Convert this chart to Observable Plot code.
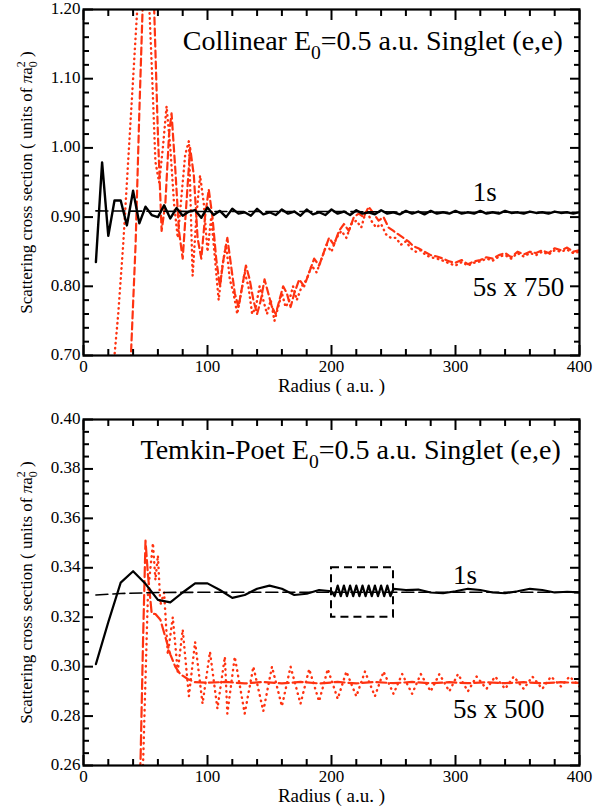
<!DOCTYPE html>
<html><head><meta charset="utf-8">
<script src="https://cdn.jsdelivr.net/npm/d3@7"></script>
<script src="https://cdn.jsdelivr.net/npm/@observablehq/plot@0.6"></script>
<style>
body{margin:0;background:#fff;}
#chart{width:605px;}
svg{display:block;}
</style></head><body><div id="chart"></div>
<script>
// ---------- DATA ----------
const topTitle = "Collinear E_0=0.5 a.u. Singlet (e,e)";
const botTitle = "Temkin-Poet E_0=0.5 a.u. Singlet (e,e)";
const yLabel = "Scattering cross section ( units of πa_0^2 )";
const xLabel = "Radius ( a.u. )";
const topLabel1s = "1s", topLabel5s = "5s x 750";
const botLabel1s = "1s", botLabel5s = "5s x 500";

const xMajor = [0, 100, 200, 300, 400];
const xMinor = [20, 40, 60, 80, 120, 140, 160, 180, 220, 240, 260, 280, 320, 340, 360, 380];
const topYMajor = [0.70, 0.80, 0.90, 1.00, 1.10, 1.20];
const topYMinor = [0.72,0.74,0.76,0.78,0.82,0.84,0.86,0.88,0.92,0.94,0.96,0.98,1.02,1.04,1.06,1.08,1.12,1.14,1.16,1.18];
const botYMajor = [0.26, 0.28, 0.30, 0.32, 0.34, 0.36, 0.38, 0.40];
const botYMinor = [0.265,0.27,0.275,0.285,0.29,0.295,0.305,0.31,0.315,0.325,0.33,0.335,0.345,0.35,0.355,0.365,0.37,0.375,0.385,0.39,0.395];

// top 1s (solid black), radius 10..400 every 5
const top1sR = d3.range(10, 401, 5);
const top1s = [0.835,0.979,0.873,0.924,0.924,0.888,0.938,0.891,0.915,0.903,0.900,0.917,0.898,0.913,0.902,0.908,0.910,0.899,0.914,0.903,
 0.909,0.900,0.912,0.905,0.907,0.902,0.912,0.904,0.907,0.903,0.911,0.905,0.908,0.902,0.911,0.904,0.907,0.903,0.911,0.905,
 0.908,0.903,0.910,0.905,0.907,0.904,0.910,0.905,0.907,0.904,0.909,0.905,0.908,0.904,0.909,0.905,0.907,0.905,0.909,0.905,
 0.907,0.905,0.909,0.905,0.907,0.905,0.909,0.906,0.907,0.905,0.908,0.906,0.907,0.905,0.908,0.906,0.907,0.905,0.907];
const top1sRefR = [10, 100, 200, 300, 400];
const top1sRef = [0.909, 0.908, 0.908, 0.907, 0.907];
const top5sDash = [[38,0.69],[42,0.86],[45,1.05],[48,1.22],[51,1.32],[54,1.30],[57,1.20],[60,1.02],[63,0.88],[66,0.92],[69,1.02],[71,1.05],[74,0.97],[77,0.88],[80,0.84],[83,0.92],[86,1.00],[89,0.96],[92,0.87],[95,0.84],[98,0.90],[101,0.94],[104,0.90],[107,0.84],[110,0.80],[113,0.84],[116,0.87],[119,0.83],[122,0.79],[125,0.77],[128,0.80],[131,0.83],[134,0.81],[137,0.78],[140,0.76],[143,0.78],[146,0.81],[149,0.79],[152,0.77],[155,0.76],[158,0.78],[161,0.80],[164,0.79],[167,0.77],[170,0.79],[174,0.81],[178,0.80],[182,0.82],[186,0.84],[190,0.83],[194,0.85],[198,0.87],[202,0.86],[206,0.88],[210,0.89],[214,0.88],[218,0.90],[222,0.905],[226,0.90],[230,0.915],[234,0.905],[238,0.895],[242,0.90],[246,0.885],[250,0.88],[254,0.875],[258,0.87],[262,0.865],[266,0.858],[270,0.855],[275,0.85],[280,0.845],[285,0.843],[290,0.84],[295,0.836],[300,0.834],[305,0.838],[310,0.832],[315,0.836],[320,0.838],[325,0.842],[330,0.84],[335,0.845],[340,0.848],[345,0.842],[350,0.85],[355,0.846],[360,0.85],[365,0.848],[370,0.852],[375,0.848],[380,0.855],[385,0.852],[390,0.856],[395,0.85],[400,0.852]];
const top5sDot = [[22,0.66],[25,0.70],[28,0.76],[32,0.86],[36,0.98],[40,1.10],[44,1.22],[48,1.32],[52,1.25],[55,1.12],[58,0.98],[61,0.95],[64,1.00],[67,1.06],[70,1.00],[73,0.92],[76,0.87],[79,0.93],[82,0.99],[85,1.01],[88,0.815],[91,0.90],[94,0.96],[97,0.92],[100,0.85],[103,0.90],[106,0.84],[109,0.78],[112,0.83],[115,0.86],[118,0.81],[121,0.79],[124,0.76],[127,0.79],[130,0.82],[133,0.80],[136,0.76],[139,0.77],[142,0.80],[145,0.78],[148,0.76],[151,0.78],[154,0.75],[157,0.77],[160,0.79],[163,0.77],[166,0.78],[169,0.80],[172,0.78],[176,0.80],[180,0.81],[184,0.83],[188,0.82],[192,0.84],[196,0.86],[200,0.85],[204,0.87],[208,0.88],[212,0.87],[216,0.89],[220,0.895],[224,0.885],[228,0.91],[232,0.895],[236,0.885],[240,0.89],[244,0.875],[248,0.87],[252,0.87],[256,0.86],[260,0.865],[264,0.855],[268,0.85],[272,0.852],[276,0.845],[280,0.842],[285,0.84],[290,0.837],[295,0.833],[300,0.83],[305,0.835],[310,0.83],[315,0.834],[320,0.836],[325,0.84],[330,0.837],[335,0.843],[340,0.845],[345,0.84],[350,0.848],[355,0.843],[360,0.848],[365,0.845],[370,0.85],[375,0.846],[380,0.852],[385,0.85],[390,0.853],[395,0.848],[400,0.85]];

const bot1s = [[10,0.301],[20,0.318],[30,0.334],[40,0.3386],[50,0.3335],[60,0.327],[70,0.326],[80,0.330],[90,0.3337],[100,0.3337],[110,0.331],[120,0.3278],[130,0.329],[140,0.3315],[150,0.3328],[160,0.3315],[170,0.329],[180,0.3295],[190,0.331],[200,0.3305],
 [202.5,0.3285],[205,0.3328],[207.5,0.3285],[210,0.3328],[212.5,0.3285],[215,0.3328],[217.5,0.3285],[220,0.3328],[222.5,0.3285],[225,0.3328],[227.5,0.3285],[230,0.3328],[232.5,0.3285],[235,0.3328],[237.5,0.3285],[240,0.3328],[242.5,0.3285],[245,0.3328],[247.5,0.3285],[250,0.3315],
 [260,0.331],[270,0.3312],[280,0.330],[290,0.3297],[300,0.3305],[310,0.3315],[320,0.331],[330,0.330],[340,0.3297],[350,0.3305],[360,0.3315],[370,0.331],[380,0.330],[390,0.3303],[400,0.330]];
const bot1sRef = [[10,0.329],[30,0.3296],[60,0.3300],[100,0.3301],[200,0.3301],[300,0.3301],[400,0.3301]];
const bot5sDash = [[44,0.24],[46,0.262],[48,0.31],[50,0.351],[52,0.337],[55,0.3215],[58,0.3213],[62,0.319],[66,0.312],[70,0.305],[74,0.300],[78,0.297],[84,0.295],[90,0.2937],[100,0.2935],[115,0.2938],[130,0.2932],[145,0.2938],[160,0.2932],[175,0.2938],[190,0.2932],[205,0.2938],[220,0.2932],[235,0.2938],[250,0.2933],[265,0.2938],[280,0.2933],[295,0.2937],[310,0.2933],[325,0.2937],[340,0.2933],[355,0.2937],[370,0.2933],[385,0.2937],[400,0.2934]];
const bot5sDot = [[48,0.26],[52,0.33],[56,0.35],[58,0.335],[60,0.345],[62,0.325],[65,0.33],[68,0.305],[72,0.32],[76,0.298],[80,0.315],[85,0.288],[90,0.31],[96,0.285],[102,0.306],[108,0.283],[114,0.304],[116,0.281],[122,0.304],[130,0.281],[137,0.30],[145,0.282],[152,0.300],[160,0.284],[167,0.300],[175,0.285],[182,0.299],[190,0.286],[197,0.299],[205,0.287],[212,0.298],[220,0.288],[227,0.298],[235,0.288],[242,0.298],[250,0.289],[257,0.297],[265,0.289],[272,0.297],[280,0.290],[287,0.297],[295,0.290],[302,0.297],[310,0.290],[317,0.296],[325,0.291],[332,0.296],[340,0.291],[347,0.296],[355,0.291],[362,0.296],[370,0.291],[377,0.296],[385,0.292],[392,0.296],[400,0.292]];
const boxX = [200, 250];
const boxY = [0.32, 0.34];

// ---------- DRAW ----------
const RED = "#ff3311";
const FONT = "'Liberation Serif', 'Times New Roman', serif";
const pts = a => a.map(([x, y]) => ({x, y}));

function frameAxes(yMaj, yMin, fmt) {
  return [
    Plot.axisX({anchor: "bottom", ticks: xMajor, tickSize: -10, fill: "none", strokeWidth: 2, label: null}),
    Plot.axisX({anchor: "bottom", ticks: xMinor, tickSize: -6, fill: "none", strokeWidth: 2, label: null}),
    Plot.axisX({anchor: "top", ticks: xMajor, tickSize: -10, fill: "none", strokeWidth: 2, label: null}),
    Plot.axisX({anchor: "top", ticks: xMinor, tickSize: -6, fill: "none", strokeWidth: 2, label: null}),
    Plot.axisY({anchor: "left", ticks: yMaj, tickSize: -10, fill: "none", strokeWidth: 2, label: null}),
    Plot.axisY({anchor: "left", ticks: yMin, tickSize: -6, fill: "none", strokeWidth: 2, label: null}),
    Plot.axisY({anchor: "right", ticks: yMaj, tickSize: -10, fill: "none", strokeWidth: 2, label: null}),
    Plot.axisY({anchor: "right", ticks: yMin, tickSize: -6, fill: "none", strokeWidth: 2, label: null}),
    Plot.axisX({anchor: "bottom", ticks: xMajor, tickSize: 0, tickPadding: 4, tickFormat: d => String(d), label: null, fontSize: 17}),
    Plot.axisY({anchor: "left", ticks: yMaj, tickSize: 0, tickPadding: 3, dy: -1, tickFormat: fmt, label: null, fontSize: 17}),
    Plot.frame({stroke: "black", strokeWidth: 2.2}),
    Plot.text([xLabel], {frameAnchor: "bottom", textAnchor: "middle", lineAnchor: "middle", dy: 30, fontSize: 19}),
    Plot.text([yLabel], {frameAnchor: "left", textAnchor: "middle", lineAnchor: "middle", dx: -57, rotate: -90, fontSize: 17})
  ];
}

const topPlot = Plot.plot({
  width: 605, height: 404, marginTop: 9, marginBottom: 49, marginLeft: 83, marginRight: 26,
  style: {fontFamily: FONT, fontSize: "17px", background: "#fff", color: "#000", overflow: "visible"},
  x: {domain: [0, 400]},
  y: {domain: [0.70, 1.20]},
  marks: [
    Plot.line(pts(top5sDot), {x: "x", y: "y", stroke: RED, strokeWidth: 2.4, strokeDasharray: "0.5,4.5", strokeLinecap: "round", clip: true}),
    Plot.line(pts(top5sDash), {x: "x", y: "y", stroke: RED, strokeWidth: 2.2, strokeDasharray: "7,4", clip: true}),
    Plot.line(top1sRefR.map((r, i) => ({x: r, y: top1sRef[i]})), {x: "x", y: "y", stroke: "black", strokeWidth: 1.6, strokeDasharray: "12,5", clip: true}),
    Plot.line(top1sR.map((r, i) => ({x: r, y: top1s[i]})), {x: "x", y: "y", stroke: "black", strokeWidth: 2.4, clip: true}),
    Plot.text([topTitle], {x: () => 80, y: () => 1.154, textAnchor: "start", fontSize: 28}),
    Plot.text([topLabel1s], {x: () => 314, y: () => 0.936, textAnchor: "start", fontSize: 27}),
    Plot.text([topLabel5s], {x: () => 314, y: () => 0.798, textAnchor: "start", fontSize: 27}),
    ...frameAxes(topYMajor, topYMinor, d3.format(".2f"))
  ]
});

const botPlot = Plot.plot({
  width: 605, height: 404, marginTop: 15, marginBottom: 43, marginLeft: 83, marginRight: 26,
  style: {fontFamily: FONT, fontSize: "17px", background: "#fff", color: "#000", overflow: "visible"},
  x: {domain: [0, 400]},
  y: {domain: [0.26, 0.40]},
  marks: [
    Plot.line(pts(bot5sDot), {x: "x", y: "y", stroke: RED, strokeWidth: 2.4, strokeDasharray: "0.5,5", strokeLinecap: "round", clip: true}),
    Plot.line(pts(bot5sDash), {x: "x", y: "y", stroke: RED, strokeWidth: 2.2, strokeDasharray: "10,4", clip: true}),
    Plot.line(pts(bot1sRef), {x: "x", y: "y", stroke: "black", strokeWidth: 1.6, strokeDasharray: "12,5", clip: true}),
    Plot.line(pts(bot1s), {x: "x", y: "y", stroke: "black", strokeWidth: 2.2, clip: true}),
    Plot.rect([{x1: boxX[0], x2: boxX[1], y1: boxY[0], y2: boxY[1]}], {x1: "x1", x2: "x2", y1: "y1", y2: "y2", fill: "none", stroke: "black", strokeWidth: 2, strokeDasharray: "8,5"}),
    Plot.text([botTitle], {x: () => 46, y: () => 0.3875, textAnchor: "start", fontSize: 28}),
    Plot.text([botLabel1s], {x: () => 298, y: () => 0.3369, textAnchor: "start", fontSize: 27}),
    Plot.text([botLabel5s], {x: () => 298, y: () => 0.2826, textAnchor: "start", fontSize: 27}),
    ...frameAxes(botYMajor, botYMinor, d3.format(".2f"))
  ]
});

const chart = document.getElementById("chart");
chart.appendChild(topPlot);
chart.appendChild(botPlot);

// rich text: subscripts / superscripts / italic pi
function rich(el) {
  const t = el.textContent;
  if (!/[_^π]/.test(t)) return;
  const base = parseFloat(getComputedStyle(el).fontSize) || 17;
  const s = d3.select(el);
  s.text(null);
  const parts = t.split(/(_\d|\^\d|π)/).filter(p => p !== "");
  let shift = 0, prevSub = false;
  for (const p of parts) {
    const ts = s.append("tspan");
    if (p[0] === "_") {
      const d = 0.3 * base;
      ts.attr("dy", d - shift).attr("font-size", 0.7 * base).text(p[1]);
      shift = d; prevSub = true;
    } else if (p[0] === "^") {
      const d = -0.42 * base;
      if (prevSub) ts.attr("dx", -0.35 * base);
      ts.attr("dy", d - shift).attr("font-size", 0.7 * base).text(p[1]);
      shift = d; prevSub = false;
    } else {
      ts.attr("dy", -shift).text(p);
      if (p === "π") ts.attr("font-style", "italic");
      shift = 0; prevSub = false;
    }
  }
}
d3.selectAll("#chart svg text").each(function() { rich(this); });
</script></body></html>
